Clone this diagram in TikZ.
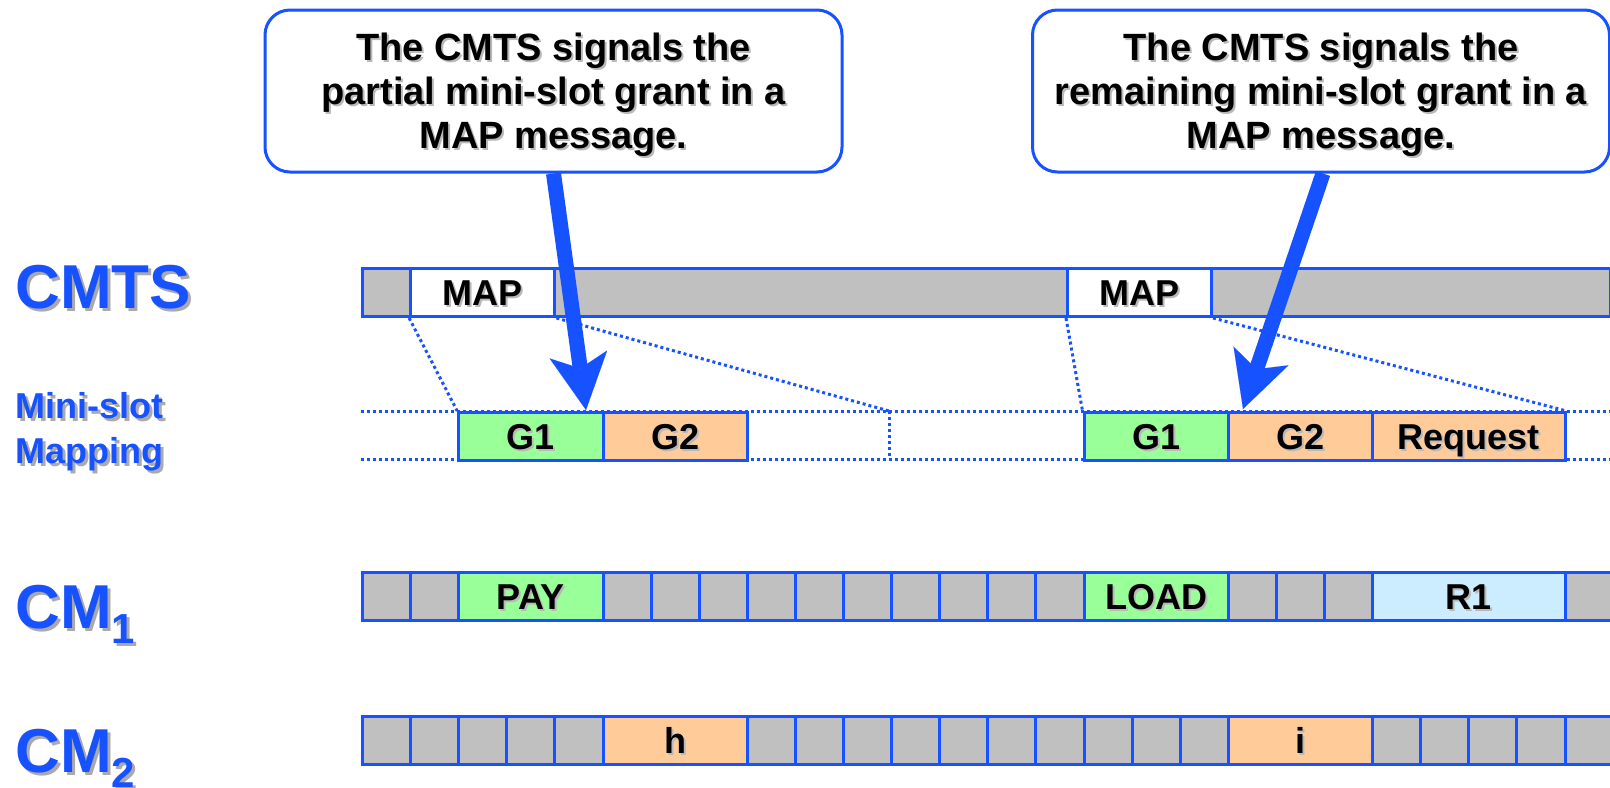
\documentclass[tikz,border=0pt]{standalone}
\usepackage{fontspec}
\setmainfont{Liberation Sans}
\usetikzlibrary{arrows.meta}

\definecolor{lineblue}{RGB}{22,82,255}
\definecolor{cellgray}{RGB}{192,192,192}
\definecolor{grantgreen}{RGB}{153,255,153}
\definecolor{grantorange}{RGB}{255,204,153}
\definecolor{reqblue}{RGB}{204,236,255}
\definecolor{txtshadow}{RGB}{185,185,185}
\definecolor{lblshadow}{RGB}{170,170,170}

% text with a drop shadow: #1 colour, #2 offset, #3 text
\newcommand\shd[3]{\leavevmode\rlap{\kern#2\raisebox{-#2}{\color{#1}#3}}#3}
\newcommand\sh[1]{\shd{txtshadow}{1pt}{#1}}
\newcommand\lsh[1]{\shd{lblshadow}{1.5pt}{#1}}

% one cell of a slot row: name, first slot, number of slots, top edge, fill, text
\newcommand\slotcell[6]{%
  \node[cellbox, fill=#5, minimum width={#3*24.05pt}, anchor=north west]
    (#1) at ({361+#2*48.1},#4) {\sh{#6}};}

\begin{document}
\begin{tikzpicture}[x=0.5pt, y=-0.5pt,
  cellbox/.style={draw=lineblue, line width=1.5pt, inner sep=0pt,
    minimum height=24pt, font=\fontsize{18}{18}\selectfont\bfseries,
    text height=13pt, text depth=0pt},
  callout/.style={draw=lineblue, line width=1.5pt, fill=white,
    rounded corners=12.5pt, minimum width=288.5pt, minimum height=81pt,
    align=center, font=\fontsize{19}{22}\selectfont\bfseries},
  dotline/.style={draw=lineblue, line width=1.5pt, dash pattern=on 1.5pt off 1.5pt},
  bigarrow/.style={draw=lineblue, line width=7.5pt,
    -{Stealth[length=28pt, width=29pt, inset=7pt, line width=0.01pt]}},
  lbl/.style={text=lineblue, inner sep=0pt, anchor=base west,
    font=\fontsize{31}{31}\selectfont\bfseries},
  sublbl/.style={text=lineblue, inner sep=0pt, anchor=base west,
    font=\fontsize{18}{18}\selectfont\bfseries}]

\useasboundingbox[fill=white] (0,0) rectangle (1610,787);

% row labels
\node[lbl] (lcmts) at (15,308) {\lsh{CMTS}};
\node[sublbl] (lmini) at (15,418) {\lsh{Mini-slot}};
\node[sublbl] (lmap) at (15,463) {\lsh{Mapping}};
\node[lbl] (lcm1) at (15,628)
  {\lsh{CM\raisebox{-7.5pt}{\fontsize{21}{21}\selectfont 1}}};
\node[lbl] (lcm2) at (15,772)
  {\lsh{CM\raisebox{-7.5pt}{\fontsize{21}{21}\selectfont 2}}};

% callouts (the strut on the first line sets the text a little lower in the box)
\node[callout] (c1) at (553.5,91)
  {\rule{0pt}{19pt}\sh{The CMTS signals the}\\ \sh{partial mini-slot grant in a}\\ \sh{MAP message.}};
\node[callout] (c2) at (1321,91)
  {\rule{0pt}{19pt}\sh{The CMTS signals the}\\ \sh{remaining mini-slot grant in a}\\ \sh{MAP message.}};

% CMTS downstream row
\node[cellbox, fill=cellgray, minimum width=624pt, anchor=north west]
  (bar) at (361,267) {};
\slotcell{map1}{1}{3}{267}{white}{MAP}
\node[cellbox, fill=white, minimum width=72pt, anchor=north west]
  (map2) at (1066,267) {\sh{MAP}};

% mini-slot mapping row: dotted frame lines
\coordinate (mL) at (361,411);  \coordinate (mLb) at (361,459);
\coordinate (mR) at (1610,411); \coordinate (mRb) at (1610,459);
\coordinate (gapT) at (889,411); \coordinate (gapB) at (889,459);
\draw[dotline] (mL) -- (mR);
\draw[dotline] (mLb) -- (mRb);
\draw[dotline] (gapT) -- (gapB);

\slotcell{g1a}{2}{3}{411}{grantgreen}{G1}
\slotcell{g2a}{5}{3}{411}{grantorange}{G2}
\slotcell{g1b}{15}{3}{411}{grantgreen}{G1}
\slotcell{g2b}{18}{3}{411}{grantorange}{G2}
\slotcell{req}{21}{4}{411}{grantorange}{Request}

% MAP to mini-slot projections
\draw[dotline] (map1.south west) -- (g1a.north west);
\draw[dotline] (map1.south east) -- (gapT);
\draw[dotline] (map2.south west) -- (g1b.north west);
\draw[dotline] (map2.south east) -- (req.north east);

% CM1 upstream slots
\foreach \k in {0,1,5,6,7,8,9,10,11,12,13,14,18,19,20,25}
  {\slotcell{a\k}{\k}{1}{571}{cellgray}{}}
\slotcell{pay}{2}{3}{571}{grantgreen}{PAY}
\slotcell{load}{15}{3}{571}{grantgreen}{LOAD}
\slotcell{r1}{21}{4}{571}{reqblue}{R1}

% CM2 upstream slots
\foreach \k in {0,1,2,3,4,8,9,10,11,12,13,14,15,16,17,21,22,23,24,25}
  {\slotcell{b\k}{\k}{1}{715}{cellgray}{}}
\slotcell{hh}{5}{3}{715}{grantorange}{h}
\slotcell{ii}{18}{3}{715}{grantorange}{i}

% callout pointers
\coordinate (t1) at (586,410);
\coordinate (t2) at (1243,409);
\draw[bigarrow] (c1.south) -- (t1);
\draw[bigarrow] ([xshift=1pt]c2.south) -- (t2);

\end{tikzpicture}
\end{document}
